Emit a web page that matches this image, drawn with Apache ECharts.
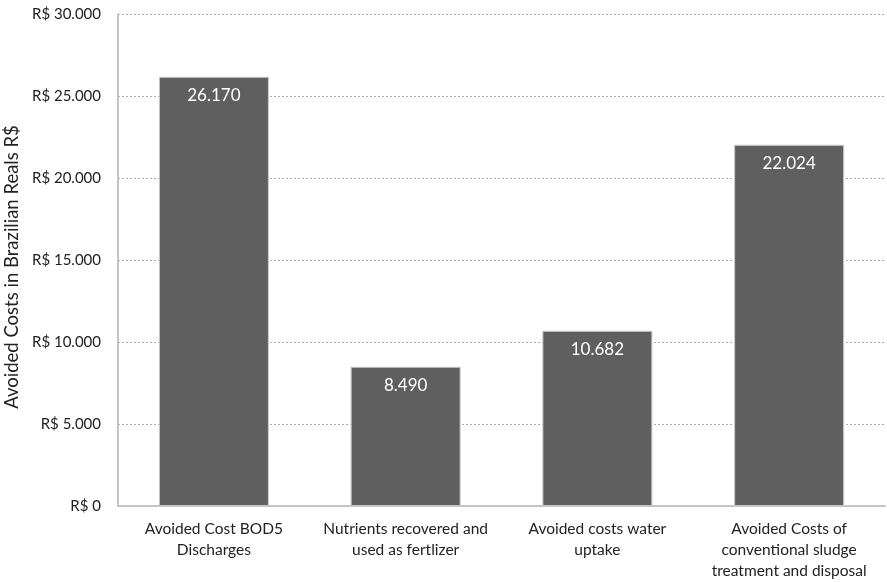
<!DOCTYPE html>
<html>
<head>
<meta charset="utf-8">
<script src="https://cdn.jsdelivr.net/npm/echarts@6/dist/echarts.min.js"></script>
<style>
  html, body { margin: 0; padding: 0; background: #fff; }
  #chart { width: 887px; height: 582px; }
</style>
</head>
<body>
<div id="chart"></div>
<script>
const categories = [
  'Avoided Cost BOD5\nDischarges',
  'Nutrients recovered and\nused as fertlizer',
  'Avoided costs water\nuptake',
  'Avoided Costs of\nconventional sludge\ntreatment and disposal'
]
const values = [26170, 8490, 10682, 22024]
const yTicks = [0, 5000, 10000, 15000, 20000, 25000, 30000]

const fmt = v => String(v).replace(/\B(?=(\d{3})+(?!\d))/g, '.')
const font = 'Lato, "Open Sans", sans-serif'

const chart = echarts.init(document.getElementById('chart'))

chart.setOption({
  backgroundColor: '#fff',
  animation: false,
  grid: { left: 118, right: 2, top: 14, bottom: 76, outerBoundsMode: 'none' },
  xAxis: {
    type: 'category',
    data: categories,
    axisLine: { lineStyle: { color: '#c4c4c4', width: 2 } },
    axisTick: { show: false },
    axisLabel: {
      color: '#222',
      fontFamily: font,
      fontSize: 15.5,
      lineHeight: 21,
      margin: 12,
      interval: 0
    }
  },
  yAxis: {
    type: 'value',
    min: yTicks[0],
    max: yTicks[yTicks.length - 1],
    interval: 5000,
    name: 'Avoided Costs in Brazilian Reals R$',
    nameLocation: 'middle',
    nameGap: 88,
    nameTextStyle: { color: '#222', fontFamily: font, fontSize: 18.5, padding: [0, 14, 0, 0] },
    axisLine: { show: true, lineStyle: { color: '#c4c4c4', width: 2 } },
    axisTick: { show: false },
    splitLine: { lineStyle: { color: '#aaa', type: [2, 2], width: 1 } },
    axisLabel: {
      color: '#222',
      fontFamily: font,
      fontSize: 15,
      margin: 17,
      formatter: v => 'R$ ' + fmt(v)
    }
  },
  series: [{
    type: 'bar',
    data: values,
    barWidth: 110,
    itemStyle: { color: '#5f5f5f', borderColor: '#c8c8c8', borderWidth: 1 },
    label: {
      show: true,
      position: 'insideTop',
      distance: 10,
      color: '#fff',
      fontFamily: font,
      fontSize: 17,
      formatter: p => fmt(p.value)
    }
  }]
})
</script>
</body>
</html>
